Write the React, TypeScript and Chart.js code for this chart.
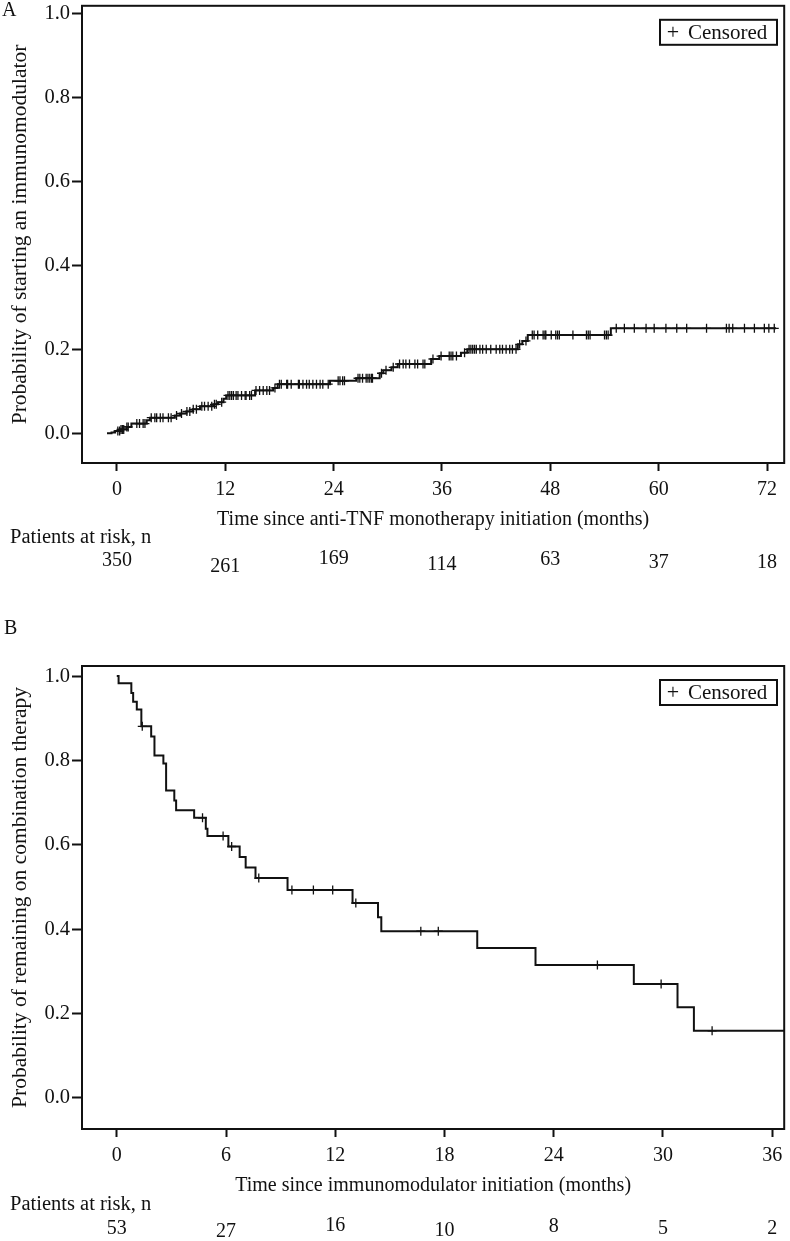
import React, { useEffect, useRef } from "react";
import { Chart, registerables } from "chart.js";

Chart.register(...registerables);

// ---------- Panel A data ----------
const aEventTimes = [-1.1, -0.6, -0.2, 0.33, 1.07, 1.6, 3.3, 3.65, 6.4, 7.0, 7.7, 8.4, 9.2, 10.7, 11.2, 11.8, 12.1, 15.3, 17.3, 17.8, 23.6, 26.5, 29.1, 29.5, 30.4, 31.1, 34.8, 35.7, 38.1, 38.8, 44.4, 44.9, 45.5, 54.7, 73.0];
const aEventProbs = [0.0, 0.002, 0.005, 0.009, 0.015, 0.023, 0.031, 0.037, 0.042, 0.047, 0.052, 0.057, 0.064, 0.069, 0.074, 0.082, 0.09, 0.102, 0.108, 0.117, 0.125, 0.131, 0.143, 0.15, 0.157, 0.165, 0.177, 0.184, 0.192, 0.2, 0.212, 0.22, 0.234, 0.25, 0.25];
const aCensorTimes = [0.1, 0.3, 0.45, 0.6, 0.75, 1.1, 1.25, 2.2, 2.5, 2.9, 3.1, 3.8, 4.2, 4.4, 4.8, 5.1, 5.7, 6.0, 6.6, 7.15, 7.75, 8.07, 8.45, 8.8, 9.4, 9.7, 10.1, 10.5, 10.8, 11.0, 11.6, 12.3, 12.5, 12.7, 12.9, 13.2, 13.4, 13.8, 14.2, 14.3, 14.7, 14.9, 15.4, 15.8, 16.2, 16.6, 16.9, 17.5, 18.0, 18.2, 18.8, 18.9, 19.3, 20.1, 20.2, 20.6, 21.0, 21.3, 21.7, 22.1, 22.5, 22.8, 23.4, 24.5, 24.7, 25.0, 25.2, 26.7, 26.9, 27.2, 27.6, 27.8, 28.0, 28.2, 28.3, 29.3, 29.8, 30.6, 31.3, 31.7, 32.0, 32.4, 33.0, 33.3, 33.9, 34.1, 35.0, 35.9, 36.8, 37.0, 37.2, 37.6, 38.5, 39.0, 39.2, 39.4, 39.6, 39.8, 40.2, 40.5, 40.9, 41.4, 42.0, 42.4, 42.7, 43.1, 43.5, 43.8, 44.2, 44.6, 45.3, 46.0, 46.2, 46.6, 47.2, 47.4, 47.5, 48.1, 48.6, 48.8, 49.0, 50.5, 52.0, 52.2, 52.4, 54.0, 54.2, 54.4, 55.3, 56.2, 57.3, 58.6, 59.5, 60.8, 62.0, 63.1, 65.3, 67.5, 67.8, 68.2, 69.5, 70.6, 71.7, 72.2, 72.8];
const aXTicks = [0, 12, 24, 36, 48, 60, 72];
const aAtRisk = [350, 261, 169, 114, 63, 37, 18];
const aXTitle = "Time since anti-TNF monotherapy initiation (months)";
const aYTitle = "Probability of starting an immunomodulator";

// ---------- Panel B data ----------
const bEventTimes = [0, 0.1, 0.8, 0.9, 1.1, 1.35, 1.89, 2.07, 2.56, 2.71, 3.16, 3.26, 4.25, 4.89, 4.98, 6.13, 6.75, 7.08, 7.62, 9.38, 12.95, 14.35, 14.53, 19.8, 23.0, 28.4, 30.8, 31.7, 36.7];
const bEventProbs = [1.0, 0.983, 0.96, 0.939, 0.921, 0.881, 0.857, 0.812, 0.793, 0.729, 0.705, 0.682, 0.664, 0.638, 0.621, 0.596, 0.571, 0.546, 0.521, 0.493, 0.462, 0.428, 0.395, 0.355, 0.315, 0.27, 0.215, 0.159, 0.159];
const bCensorTimes = [1.4, 4.71, 5.84, 6.31, 7.8, 9.62, 10.8, 11.86, 13.13, 16.7, 17.66, 26.4, 29.9, 32.7];
const bXTicks = [0, 6, 12, 18, 24, 30, 36];
const bAtRisk = [53, 27, 16, 10, 8, 5, 2];
const bXTitle = "Time since immunomodulator initiation (months)";
const bYTitle = "Probability of remaining on combination therapy";

const yTicks = [0, 0.2, 0.4, 0.6, 0.8, 1.0];
const atRiskTitle = "Patients at risk, n";
const legendLabel = "Censored";

const FONT = "'Liberation Serif', 'Times New Roman', serif";
const INK = "#111";

function stepAt(times: number[], probs: number[], t: number) {
  let v = probs[0];
  for (let i = 0; i < times.length; i++) if (times[i] <= t) v = probs[i];
  return v;
}

type Spec = {
  letter: string;
  times: number[];
  probs: number[];
  censor: number[];
  xTicks: number[];
  atRisk: number[];
  xTitle: string;
  yTitle: string;
  xMin: number;
  xMax: number;
  yMin: number;
  yMax: number;
  padding: { top: number; right: number; bottom: number; left: number };
  riskTitleY: number;
  riskY: number;
  riskOffsets: number[];
  letterPos: [number, number];
};

function makeChart(canvas: HTMLCanvasElement, s: Spec) {
  const line = s.times.map((t, i) => ({ x: t, y: s.probs[i] }));
  const cens = s.censor.map((t) => ({ x: t, y: stepAt(s.times, s.probs, t) }));

  const decor = {
    id: "decor",
    afterDraw(chart: any) {
      const { ctx, chartArea } = chart;
      const xs = chart.scales.x;
      ctx.save();
      // frame
      ctx.strokeStyle = INK;
      ctx.lineWidth = 2;
      ctx.strokeRect(chartArea.left, chartArea.top, chartArea.right - chartArea.left, chartArea.bottom - chartArea.top);
      // legend box
      const lx = 660, ly = chartArea.top + 14, lw = 117, lh = 25;
      ctx.lineWidth = 2;
      ctx.strokeRect(lx, ly, lw, lh);
      ctx.fillStyle = INK;
      ctx.textBaseline = "middle";
      ctx.textAlign = "center";
      ctx.font = `22px ${FONT}`;
      ctx.fillText("+", lx + 13, ly + lh / 2 + 1);
      ctx.font = `21px ${FONT}`;
      ctx.textAlign = "left";
      ctx.fillText(legendLabel, lx + 28, ly + lh / 2 + 1);
      // panel letter
      ctx.font = `20px ${FONT}`;
      ctx.textAlign = "left";
      ctx.fillText(s.letter, s.letterPos[0], s.letterPos[1]);
      // at-risk table
      ctx.font = `20.5px ${FONT}`;
      ctx.fillText(atRiskTitle, 10, s.riskTitleY);
      ctx.textAlign = "center";
      ctx.font = `20px ${FONT}`;
      s.atRisk.forEach((n, i) => {
        const px = xs.getPixelForValue(s.xTicks[i]);
        ctx.fillText(String(n), px, s.riskY + (s.riskOffsets[i] || 0));
      });
      ctx.restore();
    },
  };

  return new Chart(canvas, {
    type: "line",
    data: {
      datasets: [
        {
          label: "Estimate",
          data: line,
          stepped: "before",
          borderColor: INK,
          borderWidth: 2,
          pointRadius: 0,
          fill: false,
        },
        {
          label: legendLabel,
          data: cens,
          showLine: false,
          pointStyle: "cross",
          pointRadius: 4.5,
          pointBorderColor: INK,
          pointBorderWidth: 1.3,
          borderColor: INK,
        },
      ],
    },
    options: {
      responsive: false,
      animation: false,
      events: [],
      layout: { padding: s.padding },
      plugins: { legend: { display: false }, tooltip: { enabled: false } },
      scales: {
        x: {
          type: "linear",
          min: s.xMin,
          max: s.xMax,
          afterBuildTicks: (sc: any) => {
            sc.ticks = s.xTicks.map((v) => ({ value: v }));
          },
          afterFit: (sc: any) => {
            sc.height = 69;
            sc.paddingLeft = 0;
            sc.paddingRight = 0;
          },
          border: { display: false },
          grid: {
            drawOnChartArea: false,
            drawTicks: true,
            tickLength: 8,
            tickWidth: 2,
            tickColor: INK,
            color: INK,
          },
          ticks: {
            color: INK,
            padding: 7,
            maxRotation: 0,
            autoSkip: false,
            font: { family: FONT, size: 20 },
            callback: (v: any) => String(v),
          },
          title: {
            display: true,
            text: s.xTitle,
            color: INK,
            font: { family: FONT, size: 20 },
            padding: { top: 0, bottom: 0 },
          },
        },
        y: {
          type: "linear",
          min: s.yMin,
          max: s.yMax,
          afterBuildTicks: (sc: any) => {
            sc.ticks = yTicks.map((v) => ({ value: v }));
          },
          afterFit: (sc: any) => {
            sc.width = 82;
            sc.paddingTop = 0;
            sc.paddingBottom = 0;
          },
          border: { display: false },
          grid: {
            drawOnChartArea: false,
            drawTicks: true,
            tickLength: 10,
            tickWidth: 2,
            tickColor: INK,
            color: INK,
          },
          ticks: {
            color: INK,
            padding: 2,
            autoSkip: false,
            font: { family: FONT, size: 20.5 },
            callback: (v: any) => Number(v).toFixed(1),
          },
          title: {
            display: true,
            text: s.yTitle,
            color: INK,
            font: { family: FONT, size: 21.5 },
            padding: { top: 7, bottom: 0 },
          },
        },
      },
    },
    plugins: [decor],
  } as any);
}

const specA: Spec = {
  letter: "A",
  times: aEventTimes,
  probs: aEventProbs,
  censor: aCensorTimes,
  xTicks: aXTicks,
  atRisk: aAtRisk,
  xTitle: aXTitle,
  yTitle: aYTitle,
  xMin: -3.87,
  xMax: 73.9,
  yMin: -0.071,
  yMax: 1.019,
  padding: { top: 2, right: 5, bottom: 88, left: 0 },
  riskTitleY: 538,
  riskY: 563,
  riskOffsets: [-2, 4, -4, 2, -3, 0, 0],
  letterPos: [2, 11],
};

const specB: Spec = {
  letter: "B",
  times: bEventTimes,
  probs: bEventProbs,
  censor: bCensorTimes,
  xTicks: bXTicks,
  atRisk: bAtRisk,
  xTitle: bXTitle,
  yTitle: bYTitle,
  xMin: -1.91,
  xMax: 36.66,
  yMin: -0.074,
  yMax: 1.024,
  padding: { top: 46, right: 1, bottom: 43, left: 0 },
  riskTitleY: 585,
  riskY: 609,
  riskOffsets: [0, 3, -3, 2, -2, 0, 0],
  letterPos: [4, 9],
};

function Panel({ spec, top, height }: { spec: Spec; top: number; height: number }) {
  const ref = useRef<HTMLCanvasElement | null>(null);
  useEffect(() => {
    if (!ref.current) return;
    const c = makeChart(ref.current, spec);
    return () => c.destroy();
  }, [spec]);
  return (
    <div style={{ position: "absolute", left: 0, top, width: 790, height }}>
      <canvas ref={ref} width={790} height={height} style={{ display: "block", width: 790, height }} />
    </div>
  );
}

export default function App() {
  return (
    <div style={{ position: "absolute", left: 0, top: 0, width: 790, height: 1241, background: "#fff" }}>
      <Panel spec={specA} top={0} height={620} />
      <Panel spec={specB} top={620} height={621} />
    </div>
  );
}
